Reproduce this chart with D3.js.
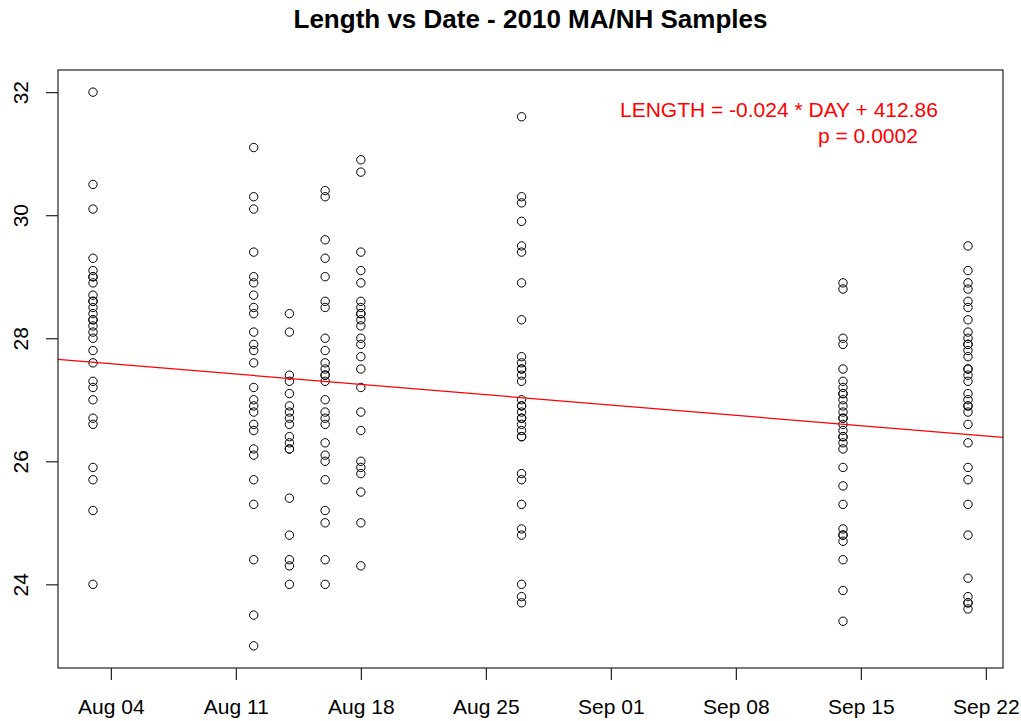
<!DOCTYPE html>
<html>
<head>
<meta charset="utf-8">
<script src="https://cdn.jsdelivr.net/npm/d3@7"></script>
<style>
  html, body { margin: 0; padding: 0; background: #fff; }
  svg { display: block; font-family: Arial, "Liberation Sans", sans-serif; }
</style>
</head>
<body>
<div id="chart"></div>
<script>
// sample dates (one column of points per date)
const sampleDates = ['2010-08-03', '2010-08-12', '2010-08-14', '2010-08-16',
  '2010-08-18', '2010-08-27', '2010-09-14', '2010-09-21'];

// lengths read per sampling date
const lenAug03 = [32.0, 30.5, 30.1, 29.3, 29.1, 29.0, 29.0, 28.9, 28.7, 28.6, 28.6, 28.5, 28.4,
  28.3, 28.3, 28.2, 28.1, 28.0, 27.8, 27.6, 27.3, 27.2, 27.0, 26.7, 26.6, 25.9, 25.7, 25.2, 24.0];
const lenAug12 = [31.1, 30.3, 30.1, 29.4, 29.0, 28.9, 28.7, 28.5, 28.4, 28.1, 27.9, 27.8, 27.6,
  27.2, 27.0, 26.9, 26.8, 26.6, 26.5, 26.2, 26.1, 25.7, 25.3, 24.4, 23.5, 23.0];
const lenAug14 = [28.4, 28.1, 27.4, 27.3, 27.1, 26.9, 26.8, 26.7, 26.6, 26.4, 26.3, 26.2, 26.2,
  25.4, 24.8, 24.4, 24.3, 24.0];
const lenAug16 = [30.4, 30.3, 29.6, 29.3, 29.0, 28.6, 28.5, 28.0, 27.8, 27.6, 27.5, 27.4, 27.4,
  27.3, 27.0, 26.8, 26.7, 26.6, 26.3, 26.1, 26.0, 25.7, 25.2, 25.0, 24.4, 24.0];
const lenAug18 = [30.9, 30.7, 29.4, 29.1, 28.9, 28.6, 28.5, 28.4, 28.4, 28.3, 28.2, 28.0, 27.9,
  27.7, 27.5, 27.2, 26.8, 26.5, 26.0, 25.9, 25.8, 25.5, 25.0, 24.3];
const lenAug27 = [31.6, 30.3, 30.2, 29.9, 29.5, 29.4, 28.9, 28.3, 27.7, 27.6, 27.5, 27.5, 27.4,
  27.3, 27.0, 26.9, 26.9, 26.8, 26.7, 26.7, 26.6, 26.5, 26.4, 26.4, 25.8, 25.7, 25.3, 24.9,
  24.8, 24.0, 23.8, 23.7];
const lenSep14 = [28.9, 28.8, 28.0, 27.9, 27.5, 27.3, 27.2, 27.1, 27.1, 27.0, 26.9, 26.8, 26.7,
  26.7, 26.6, 26.5, 26.4, 26.4, 26.3, 26.2, 25.9, 25.6, 25.3, 24.9, 24.8, 24.8, 24.7, 24.4,
  23.9, 23.4];
const lenSep21 = [29.5, 29.1, 28.9, 28.8, 28.6, 28.5, 28.3, 28.1, 28.0, 27.9, 27.9, 27.8, 27.7,
  27.5, 27.5, 27.4, 27.3, 27.1, 27.0, 26.9, 26.9, 26.8, 26.6, 26.3, 25.9, 25.7, 25.3, 24.8,
  24.1, 23.8, 23.7, 23.7, 23.6];
const lengthsByDate = [lenAug03, lenAug12, lenAug14, lenAug16, lenAug18, lenAug27, lenSep14, lenSep21];

// x ticks (weekly) and y ticks
const xTickDates = ['2010-08-04', '2010-08-11', '2010-08-18', '2010-08-25',
  '2010-09-01', '2010-09-08', '2010-09-15', '2010-09-22'];
const yTicks = [24, 26, 28, 30, 32];

// fitted regression: slope per day, fitted value at first sample date
const fitSlope = -0.024;
const fitAtStart = 27.61;
const fitLabel = 'LENGTH = -0.024 * DAY + 412.86';
const pLabel = 'p = 0.0002';
const title = 'Length vs Date - 2010 MA/NH Samples';

const parse = d3.utcParse('%Y-%m-%d');
const DAY = 864e5;

const points = [];
sampleDates.forEach((d, i) => {
  lengthsByDate[i].forEach(v => points.push({ date: parse(d), len: v }));
});

const width = 1021, height = 721;
const margin = { top: 70, right: 18, bottom: 53, left: 58 };
const plotW = width - margin.left - margin.right;
const plotH = height - margin.top - margin.bottom;

const svg = d3.select('#chart').append('svg')
  .attr('width', width)
  .attr('height', height);
svg.append('rect').attr('width', width).attr('height', height).attr('fill', '#fff');

// R-style 4% padding on each side
const dExt = d3.extent(points, p => p.date);
const dPad = (dExt[1] - dExt[0]) * 0.04;
const x = d3.scaleUtc()
  .domain([new Date(+dExt[0] - dPad), new Date(+dExt[1] + dPad)])
  .range([0, plotW]);
const yExt = d3.extent(points, p => p.len);
const yPad = (yExt[1] - yExt[0]) * 0.04;
const y = d3.scaleLinear()
  .domain([yExt[0] - yPad, yExt[1] + yPad])
  .range([plotH, 0]);

const g = svg.append('g')
  .attr('transform', `translate(${margin.left},${margin.top})`);

svg.append('defs').append('clipPath')
  .attr('id', 'clip-plot')
  .append('rect')
  .attr('width', plotW)
  .attr('height', plotH);

// points
g.append('g')
  .selectAll('circle')
  .data(points)
  .join('circle')
  .attr('cx', p => x(p.date))
  .attr('cy', p => y(p.len))
  .attr('r', 4.2)
  .attr('fill', 'none')
  .attr('stroke', '#000')
  .attr('stroke-width', 1);

// regression line across whole plot
const t0 = dExt[0];
const fitAt = dt => fitAtStart + fitSlope * (dt - t0) / DAY;
const dom = x.domain();
g.append('g').attr('clip-path', 'url(#clip-plot)')
  .append('path')
  .datum(dom)
  .attr('fill', 'none')
  .attr('stroke', '#ff0000')
  .attr('stroke-width', 1.2)
  .attr('d', d3.line().x(d => x(d)).y(d => y(fitAt(d))));

// frame
g.append('rect')
  .attr('width', plotW)
  .attr('height', plotH)
  .attr('fill', 'none')
  .attr('stroke', '#222')
  .attr('stroke-width', 1.2);

// x axis
const xAxis = g.append('g')
  .attr('transform', `translate(0,${plotH})`)
  .call(d3.axisBottom(x)
    .tickValues(xTickDates.map(parse))
    .tickFormat(d3.utcFormat('%b %d'))
    .tickSize(12)
    .tickPadding(19));
xAxis.select('.domain').remove();
xAxis.selectAll('line').attr('stroke', '#222').attr('stroke-width', 1.2);
xAxis.selectAll('text')
  .attr('fill', '#000')
  .style('font-size', '21px')
  .style('font-family', 'Arial, "Liberation Sans", sans-serif');

// y axis with rotated labels
const yAxis = g.append('g')
  .call(d3.axisLeft(y)
    .tickValues(yTicks)
    .tickSize(12)
    .tickPadding(0));
yAxis.select('.domain').remove();
yAxis.selectAll('line').attr('stroke', '#222').attr('stroke-width', 1.2);
yAxis.selectAll('text')
  .attr('x', null)
  .attr('dy', null)
  .attr('transform', 'translate(-30,0) rotate(-90)')
  .attr('text-anchor', 'middle')
  .attr('fill', '#000')
  .style('font-size', '21px')
  .style('font-family', 'Arial, "Liberation Sans", sans-serif');

// title
svg.append('text')
  .attr('x', margin.left + plotW / 2)
  .attr('y', 28)
  .attr('text-anchor', 'middle')
  .attr('font-weight', 'bold')
  .attr('font-size', 26)
  .attr('fill', '#000')
  .text(title);

// regression annotation
svg.append('text')
  .attr('x', 620)
  .attr('y', 117)
  .attr('font-size', 21)
  .attr('fill', '#ff0000')
  .text(fitLabel);
svg.append('text')
  .attr('x', 818)
  .attr('y', 143)
  .attr('font-size', 21)
  .attr('fill', '#ff0000')
  .text(pLabel);
</script>
</body>
</html>
